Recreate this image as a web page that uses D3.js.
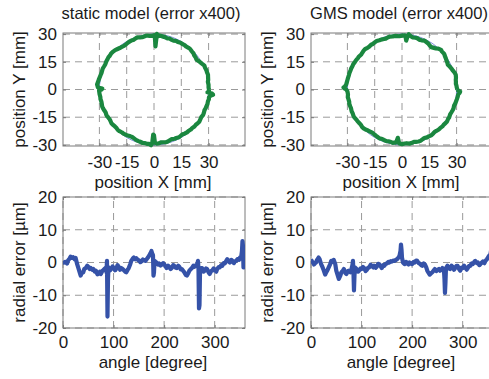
<!DOCTYPE html>
<html>
<head>
<meta charset="utf-8">
<script src="https://cdn.jsdelivr.net/npm/d3@7"></script>
<style>
  body { margin: 0; background: #fff; }
  text { font-family: "Liberation Sans", Arial, sans-serif; fill: #1a1a1a; }
</style>
</head>
<body>
<svg id="chart" width="489" height="379"></svg>
<script>
// ---- data ----
const titles = ['static model (error x400)', 'GMS model (error x400)'];
const posTicks = [-30, -15, 0, 15, 30];
const angleTicks = [0, 100, 200, 300];
const errTicks = [-20, -10, 0, 10, 20];
const nominalRadius = 30;   // mm
const errorScale = 0.4;     // 1 µm shown as 400 µm = 0.4 mm

const staticAngle = [0, 2, 5, 8, 10, 13, 15, 18, 20, 23, 25, 28, 30, 33, 35, 37, 40, 42, 45, 48,
  50, 53, 55, 58, 60, 63, 65, 68, 70, 73, 75, 78, 80, 83, 85, 86, 87, 88, 89, 90,
  93, 95, 98, 100, 103, 105, 108, 110, 113, 115, 118, 120, 123, 125, 128, 130, 133, 135, 138, 140,
  143, 145, 148, 150, 153, 155, 158, 160, 163, 165, 168, 170, 173, 175, 177, 178, 179, 180, 181, 183,
  185, 188, 190, 193, 195, 198, 200, 203, 205, 208, 210, 213, 215, 218, 220, 223, 225, 228, 230, 233,
  235, 238, 240, 243, 245, 248, 250, 253, 255, 258, 260, 263, 265, 267, 268, 269, 270, 271, 273, 275,
  278, 280, 283, 285, 288, 290, 293, 295, 298, 300, 303, 305, 308, 310, 313, 315, 318, 320, 323, 325,
  328, 330, 333, 335, 338, 340, 343, 345, 348, 350, 352, 354, 355, 356, 357, 358, 360];
const staticErr = [0.5, 0, 0.2, -0.3, 0.6, 1.2, 1.8, 1.4, 1.6, 1.0, 1.4, -0.5, -1.5, -3.0, -4.0, -3.2, -3.0, -2.0, -1.7, -1.0,
  -1.3, -2.0, -1.7, -2.2, -2.0, -2.8, -2.5, -3.6, -3.5, -2.8, -3.5, -2.5, -2.3, -1.8, -1.5, -3.0, 0.5, -16.5, -5.0, -1.5,
  -2.4, -2.0, -1.2, -1.7, -2.4, -2.0, -0.8, -1.3, -2.2, -1.7, -2.0, -2.3, -2.8, -3.0, -2.2, -1.7, -0.5, 0.5, 1.2, 1.5,
  1.0, 1.3, 0.8, 0.7, 0.1, 0.3, 0.9, 0.7, 0.5, 0.9, 1.5, 2.0, 2.8, 3.5, 2.5, 2.2, -4.0, -3.0, 0.5, 0.2,
  0, -0.6, -0.3, -0.9, -0.7, -0.2, -0.5, -1.2, -1.7, -1.0, -1.3, -2.0, -1.7, -0.8, -1.0, -1.6, -1.7, -1.0, -1.3, -2.1,
  -2.0, -2.6, -3.0, -3.8, -4.0, -3.2, -2.5, -2.0, -1.7, -1.0, -1.3, -0.8, -1.0, 0.5, -2.0, -14.0, -13.0, -3.0, -1.7, -1.7,
  -2.8, -2.5, -1.8, -2.0, -3.0, -3.5, -2.6, -2.5, -1.8, -2.3, -2.8, -2.0, -1.4, -1.5, -0.8, -1.0, -0.2, -0.3, 0.5, 1.0,
  0.3, 0, 0.8, 0.5, -0.2, 0.3, 0.6, 1.0, 0.8, 1.5, 1.2, 3.5, 6.5, 5.0, -1.5, 0.5, 0.5];

const gmsAngle = [0, 2, 4, 6, 8, 10, 12, 15, 17, 18, 20, 23, 25, 28, 30, 33, 35, 38, 40, 43,
  45, 48, 50, 53, 55, 58, 60, 63, 65, 68, 70, 73, 75, 78, 80, 82, 83, 84, 85, 86,
  87, 90, 93, 95, 98, 100, 103, 105, 108, 110, 113, 115, 118, 120, 123, 125, 128, 130, 133, 135,
  138, 140, 143, 145, 148, 150, 153, 155, 158, 160, 163, 165, 168, 170, 173, 175, 177, 178, 179, 180,
  182, 185, 188, 190, 193, 195, 198, 200, 203, 205, 208, 210, 213, 215, 218, 220, 223, 225, 228, 230,
  233, 235, 238, 240, 243, 245, 248, 250, 253, 255, 258, 260, 262, 263, 264, 265, 266, 267, 270, 273,
  275, 278, 280, 283, 285, 288, 290, 293, 295, 298, 300, 303, 305, 308, 310, 313, 315, 318, 320, 323,
  325, 328, 330, 333, 335, 338, 340, 343, 345, 348, 350, 352, 355, 357, 358, 359, 360];
const gmsErr = [1.0, 0.3, 0, -0.6, -0.2, 0, 0.8, 1.5, 1.0, 0.5, -0.5, -1.5, -2.3, -3.7, -3.0, -2.2, -1.5, -0.5, 0.5, 0.2,
  0.8, -0.5, -2.5, -4.0, -5.0, -4.0, -3.0, -2.5, -2.0, -3.2, -3.5, -2.6, -2.5, -3.0, -2.0, -0.8, 0.5, -3.0, -8.5, -4.0,
  -1.5, -2.0, -2.8, -2.5, -1.8, -2.0, -1.4, -1.7, -2.6, -2.3, -1.6, -1.5, -0.7, -1.0, -1.5, -1.0, -1.6, -1.3, -0.4, -0.5,
  -1.2, -1.7, -0.8, -1.0, -0.4, -0.3, 0.2, 0, 0.4, 0.3, 0.6, 0.5, 0.8, 1.0, 1.5, 2.0, 3.5, 5.5, 4.0, 1.5,
  0, -0.5, 0.2, -0.3, -0.6, 0, -0.3, -0.5, 0.2, 0, 0.6, 0.5, -0.2, -0.3, -0.8, -1.0, -0.3, -0.5, -1.5, -2.5,
  -3.3, -3.7, -3.2, -3.0, -2.4, -2.0, -2.6, -2.3, -2.0, -2.5, -2.2, -1.7, -2.5, -2.5, -5.0, -9.3, -6.0, -1.7, -1.0, -1.8,
  -2.0, -1.0, -1.3, -2.2, -1.7, -1.0, -1.0, -2.0, -2.5, -1.6, -1.7, -1.0, -1.5, -2.2, -1.7, -1.0, -1.0, -0.3, -0.5, 0.2,
  0.5, -0.2, 0, -0.8, -0.5, 0, 0.3, -0.2, 0.5, 1.0, 1.5, 2.0, 2.5, 4.5, 5.0, 2.0, 1.0];

const series = [
  { title: titles[0], angle: staticAngle, err: staticErr },
  { title: titles[1], angle: gmsAngle, err: gmsErr }
];

// ---- layout ----
const cols = [{ x0: 63, x1: 245 }, { x0: 311, x1: 493 }];
const topRow = { y0: 33, y1: 146 };
const botRow = { y0: 197, y1: 328 };
const fontSize = 17;
const titleSize = 16.5;
const green = '#1a873f';
const blue = '#3552a8';
const boxColor = '#7a7a7a';
const gridColor = '#9a9a9a';
const fmt = d => String(d);   // plain hyphen minus, as in the figure

const svg = d3.select('#chart');

function frame(g, x, y, xTicks, yTicks, xPad) {
  // dashed grid
  g.append('g').selectAll('line').data(xTicks).join('line')
    .attr('x1', d => x(d)).attr('x2', d => x(d))
    .attr('y1', y.range()[0]).attr('y2', y.range()[1])
    .attr('stroke', gridColor).attr('stroke-dasharray', '7,5');
  g.append('g').selectAll('line').data(yTicks).join('line')
    .attr('y1', d => y(d)).attr('y2', d => y(d))
    .attr('x1', x.range()[0]).attr('x2', x.range()[1])
    .attr('stroke', gridColor).attr('stroke-dasharray', '7,5');

  const [xa, xb] = x.range();
  const [yb, ya] = y.range();

  g.append('g').attr('transform', `translate(${xa},0)`)
    .call(d3.axisLeft(y).tickValues(yTicks).tickSize(-3).tickPadding(6).tickFormat(fmt));
  g.append('g').attr('transform', `translate(0,${yb})`)
    .call(d3.axisBottom(x).tickValues(xTicks).tickSize(-3).tickPadding(xPad).tickFormat(fmt));
  g.append('g').attr('transform', `translate(${xb},0)`)
    .call(d3.axisRight(y).tickValues(yTicks).tickSize(-3).tickFormat(''));
  g.append('g').attr('transform', `translate(0,${ya})`)
    .call(d3.axisTop(x).tickValues(xTicks).tickSize(-3).tickFormat(''));

  g.selectAll('.domain').remove();
  g.selectAll('.tick line').attr('stroke', boxColor);
  g.selectAll('.tick text').style('font-size', fontSize + 'px').attr('fill', '#1a1a1a');

  g.append('rect')
    .attr('x', xa).attr('y', ya).attr('width', xb - xa).attr('height', yb - ya)
    .attr('fill', 'none').attr('stroke', boxColor);
}

series.forEach((s, i) => {
  const c = cols[i];
  const cx = (c.x0 + c.x1) / 2;

  // ---- trajectory plot ----
  const x = d3.scaleLinear().domain([-50, 50]).range([c.x0, c.x1]);
  const y = d3.scaleLinear().domain([-30.6, 30.6]).range([topRow.y1, topRow.y0]);
  const g = svg.append('g');

  frame(g, x, y, posTicks, posTicks, 10);

  const pts = s.angle.map((a, k) => {
    const r = nominalRadius + errorScale * s.err[k];
    const t = a * Math.PI / 180;
    return [r * Math.cos(t), r * Math.sin(t)];
  });
  const nominal = d3.range(0, 361, 5).map(a => [nominalRadius * Math.cos(a * Math.PI / 180), nominalRadius * Math.sin(a * Math.PI / 180)]);
  const circ = d3.line().x(d => x(d[0])).y(d => y(d[1]));

  g.append('path').attr('d', circ(nominal))
    .attr('fill', 'none').attr('stroke', '#7a8ad8').attr('stroke-width', 1);
  g.append('path').attr('d', circ(pts))
    .attr('fill', 'none').attr('stroke', green).attr('stroke-width', 4.2)
    .attr('stroke-linejoin', 'round');

  g.append('text').attr('x', cx - 3).attr('y', 19).attr('text-anchor', 'middle')
    .style('font-size', titleSize + 'px').text(s.title);
  g.append('text').attr('x', cx - 1).attr('y', 188).attr('text-anchor', 'middle')
    .style('font-size', fontSize + 'px').text('position X [mm]');
  g.append('text').attr('transform', `translate(${c.x0 - 38},${(topRow.y0 + topRow.y1) / 2}) rotate(-90)`)
    .attr('text-anchor', 'middle').style('font-size', fontSize + 'px').text('position Y [mm]');

  // ---- radial error plot ----
  const xe = d3.scaleLinear().domain([0, 360]).range([c.x0, c.x1]);
  const ye = d3.scaleLinear().domain([-20, 20]).range([botRow.y1, botRow.y0]);
  const ge = svg.append('g');

  frame(ge, xe, ye, angleTicks, errTicks, 8);

  const clipId = 'clip' + i;
  ge.append('clipPath').attr('id', clipId).append('rect')
    .attr('x', c.x0).attr('y', botRow.y0).attr('width', c.x1 - c.x0).attr('height', botRow.y1 - botRow.y0);

  const line = d3.line().x(a => xe(a)).y((a, k) => ye(s.err[k]));
  ge.append('path').attr('d', line(s.angle))
    .attr('clip-path', `url(#${clipId})`)
    .attr('fill', 'none').attr('stroke', blue).attr('stroke-width', 4.2)
    .attr('stroke-linejoin', 'round');

  ge.append('text').attr('x', cx - 1).attr('y', 368).attr('text-anchor', 'middle')
    .style('font-size', fontSize + 'px').text('angle [degree]');
  ge.append('text').attr('transform', `translate(${c.x0 - 38},${(botRow.y0 + botRow.y1) / 2}) rotate(-90)`)
    .attr('text-anchor', 'middle').style('font-size', fontSize + 'px').text('radial error [µm]');
});
</script>
</body>
</html>
